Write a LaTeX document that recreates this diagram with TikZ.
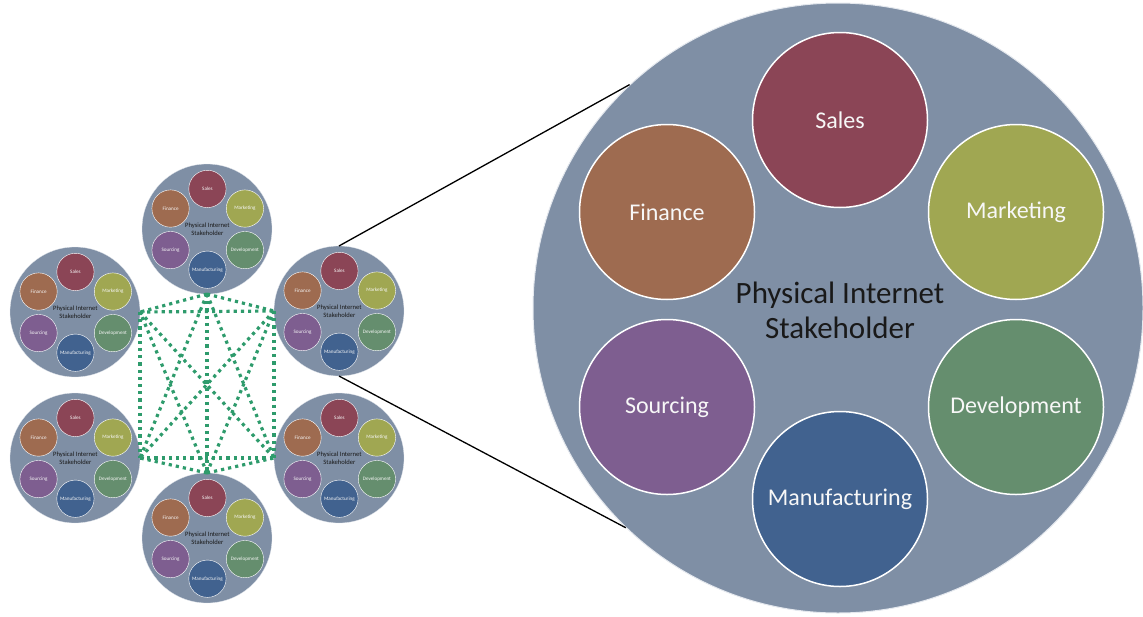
\documentclass[tikz,border=0pt]{standalone}
\usepackage{fontspec}
\setmainfont{Carlito}
\definecolor{chub}{HTML}{7F8FA5}
\definecolor{hubedge}{HTML}{E4E8EE}
\definecolor{csales}{HTML}{8B4556}
\definecolor{cfin}{HTML}{9E6B50}
\definecolor{cmkt}{HTML}{A0A752}
\definecolor{csrc}{HTML}{7E5E90}
\definecolor{cdev}{HTML}{658E6E}
\definecolor{cman}{HTML}{41628F}
\definecolor{cdot}{HTML}{2E9B6C}
\tikzset{
  hub/.style={circle, fill=chub, draw=hubedge, line width=1pt, minimum size=610pt, inner sep=0pt},
  unit/.style={circle, draw=white, line width=1.5pt, minimum size=175pt, inner sep=0pt, text=white!94!gray, font=\fontsize{24}{28}\selectfont},
  hubtext/.style={align=center, text=black!90, font=\fontsize{31}{35}\selectfont, inner sep=0pt},
  mesh/.style={draw=cdot, line width=3.2pt, dash pattern=on 3.2pt off 4pt},
  zoomline/.style={draw=black, line width=1.3pt},
  small/.style={scale=0.2131, transform shape,
    unit/.append style={line width=0.4pt}, hub/.append style={line width=0.3pt}},
  stake/.pic={
    \node[hub] (-bg) at (0,0) {};
    \node[unit, fill=csales] (-sales) at (2,188) {Sales};
    \node[unit, fill=cfin] (-fin) at (-171,96) {Finance};
    \node[unit, fill=cmkt] (-mkt) at (178,96) {Marketing};
    \node[unit, fill=csrc] (-src) at (-171,-99) {Sourcing};
    \node[unit, fill=cdev] (-dev) at (178,-99) {Development};
    \node[unit, fill=cman] (-man) at (2,-191) {Manufacturing};
    \node[hubtext] (-title) at (2,-2) {Physical Internet\\Stakeholder};
  }
}
\begin{document}
\begin{tikzpicture}[x=1pt, y=1pt]
\useasboundingbox (0,0) rectangle (1143,-616);
\pic (big) at (838,-308) {stake};
\pic[small] (tm) at (207,-229) {stake};
\pic[small] (ul) at (75,-312) {stake};
\pic[small] (ur) at (339,-311) {stake};
\pic[small] (ll) at (75,-458) {stake};
\pic[small] (lr) at (339,-458) {stake};
\pic[small] (bm) at (207,-538) {stake};
% full mesh between the six stakeholders
\draw[mesh] (ul-bg.east) -- (ur-bg.west);
\draw[mesh] (ul-bg.east) -- (ll-bg.east);
\draw[mesh] (ur-bg.west) -- (lr-bg.west);
\draw[mesh] (ll-bg.east) -- (lr-bg.west);
\draw[mesh] (tm-bg.south) -- (ul-bg.east);
\draw[mesh] (tm-bg.south) -- (ur-bg.west);
\draw[mesh] (bm-bg.north) -- (ll-bg.east);
\draw[mesh] (bm-bg.north) -- (lr-bg.west);
\draw[mesh] (tm-bg.south) -- (bm-bg.north);
\draw[mesh] (ul-bg.east) -- (lr-bg.west);
\draw[mesh] (ur-bg.west) -- (ll-bg.east);
\draw[mesh] (tm-bg.south) -- (ll-bg.east);
\draw[mesh] (tm-bg.south) -- (lr-bg.west);
\draw[mesh] (bm-bg.north) -- (ul-bg.east);
\draw[mesh] (bm-bg.north) -- (ur-bg.west);
% zoom lines
\draw[zoomline] (ur-bg.north) -- (big-bg.133.8);
\draw[zoomline] (ur-bg.south) -- (big-bg.226.2);
\end{tikzpicture}
\end{document}
